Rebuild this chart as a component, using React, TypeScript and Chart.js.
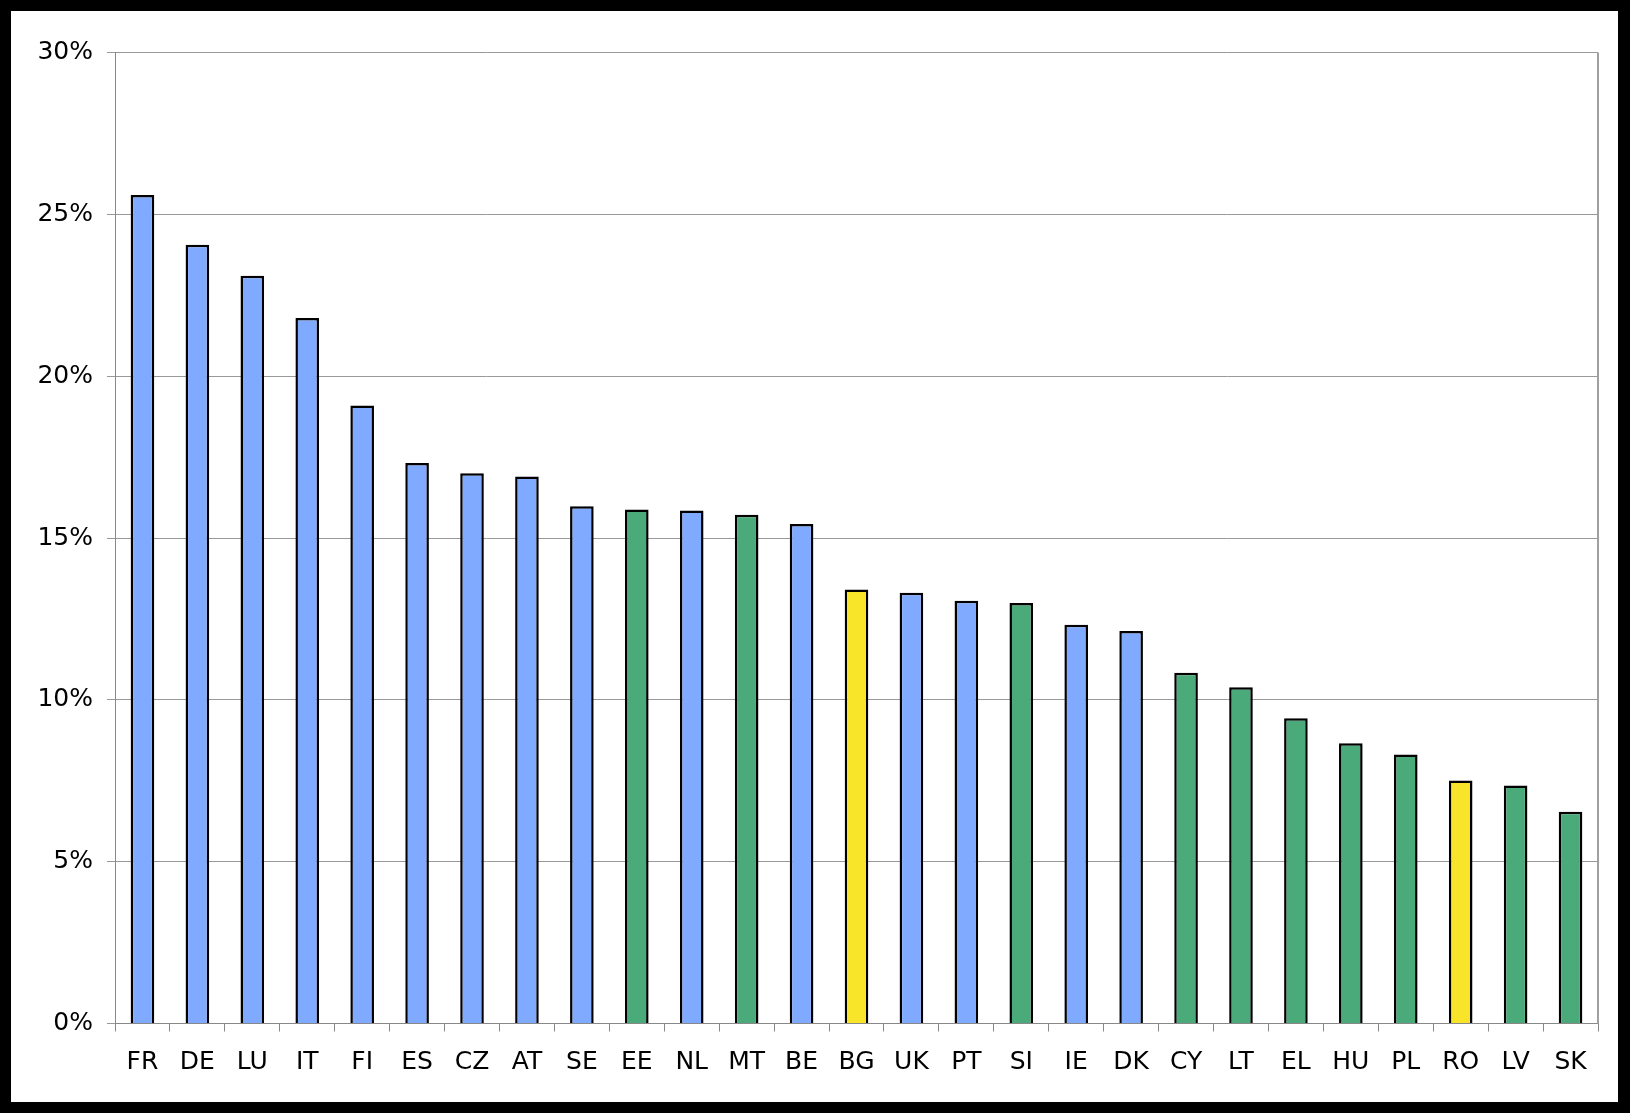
import React, { useEffect, useRef } from "react";
import { Chart, registerables } from "chart.js";

Chart.register(...registerables);

const categories = ["FR","DE","LU","IT","FI","ES","CZ","AT","SE","EE","NL","MT","BE","BG","UK","PT","SI","IE","DK","CY","LT","EL","HU","PL","RO","LV","SK"];
const values = [25.6,24.06,23.1,21.8,19.09,17.32,17.0,16.9,15.98,15.88,15.85,15.72,15.43,13.41,13.31,13.06,12.99,12.32,12.13,10.84,10.39,9.43,8.66,8.31,7.51,7.35,6.54];
// group: b = blue, g = green, y = yellow
const groups = ["b","b","b","b","b","b","b","b","b","g","b","g","b","y","b","b","g","b","b","g","g","g","g","g","y","g","g"];
const groupColors: Record<string, string> = { b: "#80AAFF", g: "#4BAA7A", y: "#F8E52A" };
const yTicks = [0, 5, 10, 15, 20, 25, 30];

const FONT = "'DejaVu Sans', Verdana, sans-serif";

export default function App() {
  const ref = useRef<HTMLCanvasElement | null>(null);
  useEffect(() => {
    document.body.style.margin = "0";
    const ctx = ref.current!;
    const rightBorder = {
      id: "rightBorder",
      afterDraw(chart: any) {
        const { ctx, chartArea } = chart;
        ctx.save();
        ctx.strokeStyle = "#a0a0a0";
        ctx.lineWidth = 2;
        ctx.beginPath();
        ctx.moveTo(chartArea.right, chartArea.top);
        ctx.lineTo(chartArea.right, chartArea.bottom);
        ctx.stroke();
        ctx.restore();
      },
    };
    const chart = new Chart(ctx, {
      type: "bar",
      data: {
        labels: categories,
        datasets: [
          {
            data: values,
            backgroundColor: groups.map((g) => groupColors[g]),
            borderColor: "#000000",
            borderWidth: 2.5,
            barPercentage: 0.43,
            categoryPercentage: 1,
          },
        ],
      },
      options: {
        animation: false,
        responsive: false,
        maintainAspectRatio: false,
        layout: { padding: { left: 0, right: 20, top: 41.5, bottom: 0 } },
        plugins: { legend: { display: false }, tooltip: { enabled: false } },
        scales: {
          x: {
            offset: true,
            grid: { offset: true, drawOnChartArea: false, drawTicks: true, tickLength: 8, color: "#888888", lineWidth: 1 },
            border: { display: true, color: "#888888", width: 1 },
            ticks: { color: "#000", font: { family: FONT, size: 25 }, padding: 16, maxRotation: 0, autoSkip: false },
            afterFit: (s: any) => { s.height = 78.5; },
          },
          y: {
            min: 0,
            max: 30,
            afterBuildTicks: (s: any) => { s.ticks = yTicks.map((v) => ({ value: v })); },
            grid: { color: "#999999", lineWidth: 1, tickLength: 8 },
            border: { display: true, color: "#888888", width: 1 },
            ticks: {
              color: "#000",
              font: { family: FONT, size: 25 },
              padding: 14,
              callback: (v: any) => v + "%",
            },
            afterFit: (s: any) => { s.width = 104; },
          },
        },
      },
      plugins: [rightBorder],
    });
    return () => chart.destroy();
  }, []);
  return (
    <div style={{ position: "absolute", left: 0, top: 0, width: 1630, height: 1113, background: "#000" }}>
      <div style={{ position: "absolute", left: 11, top: 11, width: 1607, height: 1091, background: "#fff" }}>
        <canvas ref={ref} width={1607} height={1091} style={{ display: "block" }} />
      </div>
    </div>
  );
}
